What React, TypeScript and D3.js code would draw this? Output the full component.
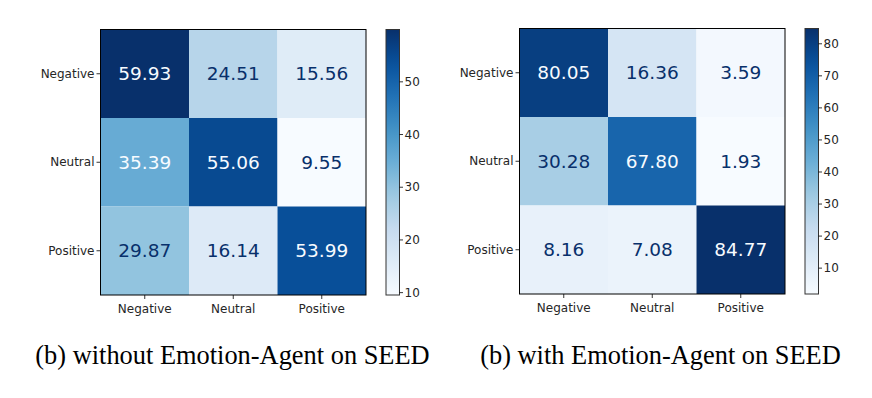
import React from "react";
import * as d3 from "d3";

const classLabels = ["Negative", "Neutral", "Positive"];

const withoutValues = [
  [59.93, 24.51, 15.56],
  [35.39, 55.06, 9.55],
  [29.87, 16.14, 53.99],
];
const withValues = [
  [80.05, 16.36, 3.59],
  [30.28, 67.8, 1.93],
  [8.16, 7.08, 84.77],
];
const withoutTicks = [10, 20, 30, 40, 50];
const withTicks = [10, 20, 30, 40, 50, 60, 70, 80];
const captions = [
  "(b) without Emotion-Agent on SEED",
  "(b) with Emotion-Agent on SEED",
];

const blues = d3.schemeBlues[9];
const bluesInterp = d3
  .scaleLinear<string>()
  .domain(d3.range(9).map((i) => i / 8))
  .range(blues)
  .interpolate(d3.interpolateRgb);

const FONT = "DejaVu Sans, sans-serif";
const TICK_FONT = 12;

type PanelProps = {
  id: string;
  values: number[][];
  ticks: number[];
  caption: string;
  x0: number;
  y0: number;
  size: number;
  cbX: number;
  cbW: number;
  capX: number;
};

function Panel({ id, values, ticks, caption, x0, y0, size, cbX, cbW, capX }: PanelProps) {
  const flat = values.flat();
  const vmin = d3.min(flat) as number;
  const vmax = d3.max(flat) as number;
  const norm = d3.scaleLinear().domain([vmin, vmax]).range([0, 1]).clamp(true);
  const color = (v: number) => bluesInterp(norm(v));
  const thresh = (vmin + vmax) / 2;

  const x = d3.scaleBand<string>().domain(classLabels).range([x0, x0 + size]);
  const y = d3.scaleBand<string>().domain(classLabels).range([y0, y0 + size]);
  const cb = d3.scaleLinear().domain([vmin, vmax]).range([y0 + size, y0]);
  const stops = d3.range(0, 1.0001, 0.05);

  return (
    <g>
      <defs>
        <linearGradient id={id} x1="0" y1="1" x2="0" y2="0">
          {stops.map((t) => (
            <stop key={t} offset={t} stopColor={bluesInterp(t)} />
          ))}
        </linearGradient>
      </defs>
      {values.map((row, i) =>
        row.map((v, j) => (
          <g key={`${i}-${j}`}>
            <rect
              x={x(classLabels[j])}
              y={y(classLabels[i])}
              width={x.bandwidth()}
              height={y.bandwidth()}
              fill={color(v)}
            />
            <text
              x={(x(classLabels[j]) as number) + x.bandwidth() / 2}
              y={(y(classLabels[i]) as number) + y.bandwidth() / 2}
              dy="0.36em"
              textAnchor="middle"
              fontFamily={FONT}
              fontSize={18.5}
              fill={v > thresh ? blues[0] : blues[8]}
            >
              {v.toFixed(2)}
            </text>
          </g>
        ))
      )}
      <rect x={x0} y={y0} width={size} height={size} fill="none" stroke="#000" strokeWidth={1} />
      {classLabels.map((l) => {
        const cx = (x(l) as number) + x.bandwidth() / 2;
        const cy = (y(l) as number) + y.bandwidth() / 2;
        return (
          <g key={l}>
            <line x1={cx} x2={cx} y1={y0 + size} y2={y0 + size + 4} stroke="#000" strokeWidth={0.8} />
            <text x={cx} y={y0 + size + 18} textAnchor="middle" fontFamily={FONT} fontSize={TICK_FONT} fill="#262626">
              {l}
            </text>
            <line x1={x0 - 4} x2={x0} y1={cy} y2={cy} stroke="#000" strokeWidth={0.8} />
            <text x={x0 - 6} y={cy} dy="0.35em" textAnchor="end" fontFamily={FONT} fontSize={TICK_FONT} fill="#262626">
              {l}
            </text>
          </g>
        );
      })}
      <rect x={cbX} y={y0} width={cbW} height={size} fill={`url(#${id})`} stroke="#333" strokeWidth={1} />
      {ticks.map((t) => (
        <g key={t}>
          <line x1={cbX + cbW} x2={cbX + cbW + 3.5} y1={cb(t)} y2={cb(t)} stroke="#000" strokeWidth={0.8} />
          <text x={cbX + cbW + 5} y={cb(t)} dy="0.35em" fontFamily={FONT} fontSize={TICK_FONT} fill="#262626">
            {t}
          </text>
        </g>
      ))}
      <text
        x={capX}
        y={364}
        textAnchor="middle"
        fontFamily="Liberation Serif, Times New Roman, serif"
        fontSize={26.4}
        fill="#000"
      >
        {caption}
      </text>
    </g>
  );
}

export default function App() {
  return (
    <svg
      width={872}
      height={398}
      style={{ position: "absolute", left: 0, top: 0, background: "#fff" }}
    >
      <rect x={0} y={0} width={872} height={398} fill="#fff" />
      <Panel
        id="gradA"
        values={withoutValues}
        ticks={withoutTicks}
        caption={captions[0]}
        x0={100.5}
        y0={29.5}
        size={265.5}
        cbX={386}
        cbW={13.5}
        capX={232.5}
      />
      <Panel
        id="gradB"
        values={withValues}
        ticks={withTicks}
        caption={captions[1]}
        x0={519.5}
        y0={28.5}
        size={265.5}
        cbX={805}
        cbW={13.5}
        capX={660.5}
      />
    </svg>
  );
}
